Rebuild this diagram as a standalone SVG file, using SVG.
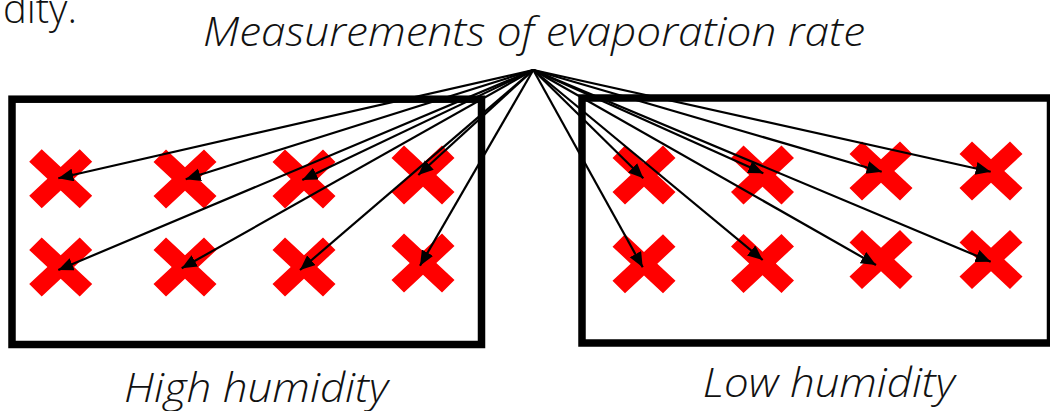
<svg xmlns="http://www.w3.org/2000/svg" width="1050" height="411" viewBox="0 0 1050 411">
  <style>
    .lbl { font-family: "Open Sans", "Liberation Sans", sans-serif; font-style: italic; font-weight: 300; font-size: 40px; fill: #111; }
    .up { font-family: "Open Sans", "Liberation Sans", sans-serif; font-weight: 300; font-size: 40px; fill: #111; }
    .box { fill: none; stroke: #000; stroke-width: 7.5; }
    .x { fill: #ff0000; }
    .arr { stroke: #000; stroke-width: 2.2; fill: none; marker-end: url(#ah); }
  </style>
  <defs>
    <marker id="ah" markerUnits="userSpaceOnUse" markerWidth="18" markerHeight="16" refX="15" refY="6.5" orient="auto" viewBox="0 0 18 16">
      <path d="M0,0 L15,6.5 L0,13 z" fill="#000"/>
    </marker>
    <path id="cross" d="M-19,-29.5 L0,-11.7 L19,-29.5 L31.5,-17 L13.3,0 L31.5,17 L19,29.5 L0,11.7 L-19,29.5 L-31.5,17 L-13.3,0 L-31.5,-17 Z"/>
  </defs>
  <rect width="1050" height="411" fill="#fff"/>

  <text class="up" x="77" y="22.5" text-anchor="end">dity.</text>
  <text id="title" class="lbl" x="203" y="45.7" textLength="662" lengthAdjust="spacingAndGlyphs">Measurements of evaporation rate</text>

  <g id="high-humidity">
    <rect class="box" x="12" y="99.2" width="469.5" height="245.3"/>
    <g class="x">
      <use href="#cross" x="60.7" y="178.8"/>
      <use href="#cross" x="185" y="179"/>
      <use href="#cross" x="304" y="179"/>
      <use href="#cross" x="423" y="175"/>
      <use href="#cross" x="60.7" y="267"/>
      <use href="#cross" x="185" y="267"/>
      <use href="#cross" x="304" y="267"/>
      <use href="#cross" x="423" y="263"/>
    </g>
    <text class="lbl" x="124" y="401.7" textLength="264" lengthAdjust="spacingAndGlyphs">High humidity</text>
  </g>

  <g id="low-humidity">
    <rect class="box" x="582" y="98" width="468.5" height="245"/>
    <g class="x">
      <use href="#cross" x="644" y="175"/>
      <use href="#cross" x="762.5" y="175"/>
      <use href="#cross" x="881" y="171"/>
      <use href="#cross" x="991" y="171"/>
      <use href="#cross" x="644" y="263.7"/>
      <use href="#cross" x="762.5" y="263.5"/>
      <use href="#cross" x="881" y="259.5"/>
      <use href="#cross" x="991" y="259.5"/>
    </g>
    <text class="lbl" x="702.7" y="396.7" textLength="252" lengthAdjust="spacingAndGlyphs">Low humidity</text>
  </g>

  <g id="connectors">
    <line class="arr" x1="533.3" y1="70" x2="58.3" y2="178.3"/>
    <line class="arr" x1="533.3" y1="70" x2="185.7" y2="179.3"/>
    <line class="arr" x1="533.3" y1="70" x2="302.3" y2="180"/>
    <line class="arr" x1="533.3" y1="70" x2="418.3" y2="175"/>
    <line class="arr" x1="533.3" y1="70" x2="58.3" y2="270"/>
    <line class="arr" x1="533.3" y1="70" x2="181.7" y2="268.3"/>
    <line class="arr" x1="533.3" y1="70" x2="300" y2="270"/>
    <line class="arr" x1="533.3" y1="70" x2="420" y2="265.7"/>
    <line class="arr" x1="533.3" y1="70" x2="643.3" y2="178.3"/>
    <line class="arr" x1="533.3" y1="70" x2="763.3" y2="173.3"/>
    <line class="arr" x1="533.3" y1="70" x2="881.7" y2="171.7"/>
    <line class="arr" x1="533.3" y1="70" x2="990.7" y2="171.7"/>
    <line class="arr" x1="533.3" y1="70" x2="642.7" y2="267.3"/>
    <line class="arr" x1="533.3" y1="70" x2="762.7" y2="260"/>
    <line class="arr" x1="533.3" y1="70" x2="876" y2="265"/>
    <line class="arr" x1="533.3" y1="70" x2="990.7" y2="261.7"/>
  </g>
</svg>
